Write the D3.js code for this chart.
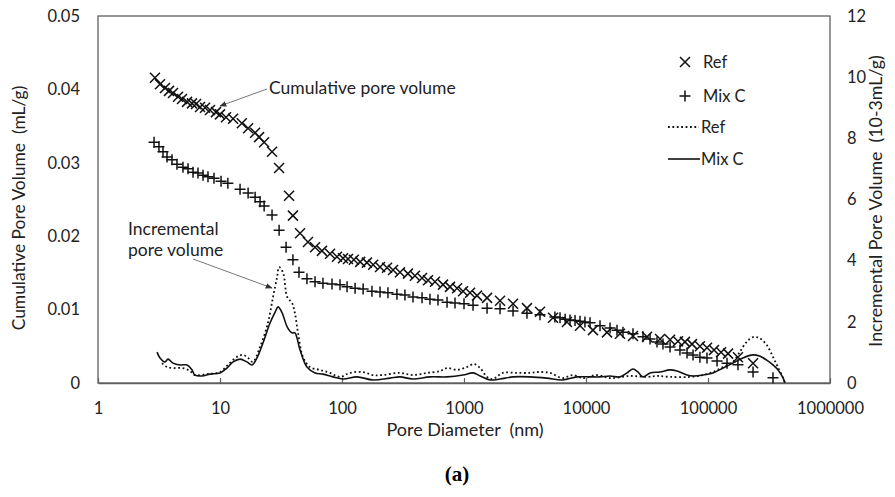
<!DOCTYPE html>
<html>
<head>
<meta charset="utf-8">
<script src="https://cdn.jsdelivr.net/npm/d3@7"></script>
<style>
body { margin: 0; background: #fff; }
text { font-family: Lato, "Open Sans", sans-serif; fill: #222; }
</style>
</head>
<body>
<div id="viz"></div>
<script>
// Cumulative pore volume (mL/g), markers.
var refCumD = [2.93, 3.22, 3.54, 3.82, 4.12, 4.53, 4.88, 5.37, 5.89, 6.36, 6.86, 7.54, 8.28, 9.27, 10,
	11.2, 12.8, 15.1, 17.0, 19.4, 20.9, 23.0, 26.7, 30.5, 36.8, 39.6, 45.3, 52.6, 60.1, 68.5, 79.8, 91,
	102, 112, 125, 141, 160, 180, 205, 234, 262, 299, 347, 396, 453, 507, 578, 673, 768, 877, 982,
	1120, 1279, 1545, 1974, 2523, 3281, 4198, 5370, 6982, 8932, 11400, 14860, 19000, 24270, 31620,
	40450, 48870, 56760, 64740, 73960, 85900, 98130, 112000, 128000, 146000, 176000, 234000];
var refCumV = [0.0416, 0.0407, 0.0402, 0.0398, 0.0395, 0.0390, 0.0387, 0.0383, 0.0381, 0.0380, 0.0376, 0.0375, 0.0372, 0.0369, 0.0366,
	0.0362, 0.0360, 0.0354, 0.0347, 0.0341, 0.0335, 0.0328, 0.0315, 0.0293, 0.0255, 0.0228, 0.0204, 0.0192, 0.0185, 0.0180, 0.0176, 0.0172,
	0.0170, 0.0169, 0.0168, 0.0165, 0.0164, 0.0161, 0.0158, 0.0157, 0.0154, 0.0151, 0.0149, 0.0146, 0.0143, 0.0140, 0.0138, 0.0134, 0.0131, 0.0129, 0.0125,
	0.0123, 0.0119, 0.0116, 0.0112, 0.0108, 0.0102, 0.0097, 0.0089, 0.0083, 0.0078, 0.0072, 0.0069, 0.0067, 0.0064, 0.0063,
	0.0060, 0.0059, 0.0057, 0.0056, 0.0053, 0.0050, 0.0048, 0.0045, 0.0042, 0.0040, 0.0035, 0.0027];

var mixCumD = [2.88, 3.16, 3.41, 3.68, 4.04, 4.44, 4.97, 5.47, 6.01, 6.6, 7.26, 7.97, 8.93, 10.2, 11.6,
	14.6, 17.0, 19.4, 21.3, 23.0, 26.7, 30.5, 34.8, 39.6, 44.4, 51.6, 60.1, 69.8, 82.8, 96.3,
	110, 128, 149, 176, 205, 238, 282, 328, 382, 453, 526, 612, 726, 844, 1000, 1186, 1545, 1974,
	2523, 3281, 4198, 5560, 6124, 6750, 7396, 8130, 8932, 9800, 10790, 13030, 15740, 17950, 20090, 24270, 29310, 33500,
	38200, 42760, 48870, 58900, 67300, 75400, 85900, 98100, 118600, 143200, 176000, 234000, 341000];
var mixCumV = [0.0328, 0.0322, 0.0315, 0.0308, 0.0304, 0.0298, 0.0294, 0.0292, 0.0287, 0.0286, 0.0283, 0.0281, 0.0279, 0.0275, 0.0272,
	0.0264, 0.0259, 0.0253, 0.0247, 0.0241, 0.0229, 0.0208, 0.0185, 0.0168, 0.0151, 0.0142, 0.0138, 0.0136, 0.0135, 0.0134,
	0.0131, 0.0129, 0.0128, 0.0125, 0.0124, 0.0123, 0.0121, 0.0120, 0.0117, 0.0116, 0.0114, 0.0113, 0.0110, 0.0109, 0.0108, 0.0106, 0.0102, 0.0101,
	0.0098, 0.0095, 0.0093, 0.0090, 0.0089, 0.0087, 0.0086, 0.0085, 0.0084, 0.0083, 0.0082, 0.0078, 0.0075, 0.0072, 0.0069, 0.0067, 0.0063, 0.0060,
	0.0056, 0.0053, 0.0049, 0.0045, 0.0041, 0.0038, 0.0035, 0.0034, 0.0030, 0.0027, 0.0025, 0.0015, 0.0007];

// Incremental pore volume (10-3 mL/g), lines.
var refIncD = [3.35, 3.68, 4.12, 4.97, 5.68, 6.23, 7.82, 10, 11.6, 13.7, 15.4, 17.0, 18.6, 21.3, 24.7, 27.2, 29.4, 30.5,
	32.9, 35.6, 38.9, 41.1, 43.6, 47.9, 54.6, 65.7, 79.8, 96.3, 116, 148, 179, 216, 299, 381, 497, 636, 726, 877,
	1057, 1206, 1355, 1545, 1720, 2080, 2710, 3470, 4040, 5060, 6430, 7780, 9400, 12300, 15740, 22800, 31620,
	38200, 48870, 71200, 91100, 110000, 133000, 160000, 182000, 207000, 234000, 264000, 303000, 341000, 374000, 413000, 426000];
var refIncV = [0.65, 0.52, 0.49, 0.49, 0.39, 0.26, 0.29, 0.36, 0.59, 0.85, 0.92, 0.82, 0.69, 1.18, 1.96, 2.81, 3.47, 3.79,
	3.60, 2.81, 2.62, 2.29, 1.64, 0.85, 0.52, 0.43, 0.33, 0.20, 0.33, 0.36, 0.26, 0.26, 0.33, 0.26, 0.33, 0.39, 0.49, 0.43,
	0.52, 0.62, 0.49, 0.20, 0.13, 0.33, 0.33, 0.33, 0.36, 0.33, 0.16, 0.26, 0.16, 0.26, 0.16, 0.23, 0.20,
	0.23, 0.20, 0.20, 0.26, 0.36, 0.52, 0.69, 1.01, 1.34, 1.50, 1.47, 1.24, 0.85, 0.52, 0.16, 0.03];

var mixIncD = [3.05, 3.22, 3.54, 3.75, 4.12, 4.70, 5.37, 5.89, 6.23, 7.12, 8.28, 10, 11.4, 12.8, 14.6, 16.6, 18.3, 20.1,
	22.5, 25.7, 28.3, 29.9, 32.1, 35.6, 38.9, 41.1, 45.3, 51.6, 60.1, 69.8, 84.1, 102, 133, 179, 248, 298, 381, 526, 726,
	982, 1186, 1355, 1640, 1974, 2523, 3470, 4760, 6430, 8470, 10790, 13030, 15740, 19000, 21700, 24270, 26640, 29310,
	33500, 40450, 48870, 55800, 67300, 75400, 91100, 110000, 133000, 160000, 193000, 234000, 264000, 303000, 341000, 374000, 413000, 426000];
var mixIncV = [1.01, 0.82, 0.69, 0.78, 0.65, 0.59, 0.59, 0.43, 0.26, 0.23, 0.29, 0.33, 0.49, 0.69, 0.78, 0.69, 0.59, 0.82,
	1.31, 1.96, 2.32, 2.49, 2.32, 1.83, 1.64, 1.64, 1.08, 0.52, 0.33, 0.29, 0.20, 0.13, 0.20, 0.10, 0.16, 0.20, 0.13, 0.20, 0.20,
	0.26, 0.33, 0.23, 0.10, 0.13, 0.20, 0.20, 0.16, 0.10, 0.20, 0.20, 0.20, 0.23, 0.20, 0.33, 0.46, 0.36, 0.20,
	0.33, 0.36, 0.43, 0.39, 0.26, 0.23, 0.26, 0.33, 0.49, 0.65, 0.82, 0.92, 0.88, 0.75, 0.59, 0.43, 0.16, 0];

var xTicks = [1, 10, 100, 1000, 10000, 100000, 1000000];
var yLeftTicks = [0, 0.01, 0.02, 0.03, 0.04, 0.05];
var yRightTicks = [0, 2, 4, 6, 8, 10, 12];

var W = 895, H = 497;
var mLeft = 98, mRight = 830, mTop = 16, mBottom = 383;

var svg = d3.select("#viz")
	.append("svg")
	.attr("width", W)
	.attr("height", H);

var x = d3.scaleLog().domain([1, 1000000]).range([mLeft, mRight]);
var yL = d3.scaleLinear().domain([0, 0.05]).range([mBottom, mTop]);
var yR = d3.scaleLinear().domain([0, 12]).range([mBottom, mTop]);

var frame = "#5f5f5f";

// Plot box.
svg.append("rect")
	.attr("x", mLeft).attr("y", mTop)
	.attr("width", mRight - mLeft).attr("height", mBottom - mTop)
	.style("fill", "none").style("stroke", frame).style("stroke-width", 1.3);

// Bottom axis with inward ticks.
var xAxis = svg.append("g")
	.attr("transform", "translate(0," + mBottom + ")")
	.call(d3.axisBottom(x).tickValues(xTicks).tickSizeInner(-5).tickSizeOuter(0).tickFormat(d3.format("d")));
xAxis.select(".domain").style("stroke", frame).style("stroke-width", 1.3);
xAxis.selectAll(".tick line").style("stroke", frame).style("stroke-width", 1.2);
xAxis.selectAll(".tick text").attr("y", 19).style("font-size", "16.5px").style("font-family", "Lato").style("fill", "#222");

// Left axis.
var yAxisL = svg.append("g")
	.attr("transform", "translate(" + mLeft + ",0)")
	.call(d3.axisLeft(yL).tickValues(yLeftTicks).tickSize(0).tickPadding(18).tickFormat(function(d) { return d === 0 ? "0" : d3.format(".2f")(d); }));
yAxisL.select(".domain").remove();
yAxisL.selectAll(".tick text").style("font-size", "16.5px").style("font-family", "Lato").style("fill", "#222");

// Right axis.
var yAxisR = svg.append("g")
	.attr("transform", "translate(" + mRight + ",0)")
	.call(d3.axisRight(yR).tickValues(yRightTicks).tickSize(0).tickPadding(17));
yAxisR.select(".domain").remove();
yAxisR.selectAll(".tick text").style("font-size", "16.5px").style("font-family", "Lato").style("fill", "#222");

// Axis titles.
svg.append("text")
	.attr("x", 465).attr("y", 436)
	.attr("text-anchor", "middle")
	.style("font-size", "18px")
	.text("Pore Diameter\u00a0 (nm)");

svg.append("text")
	.attr("transform", "translate(25,208) rotate(-90)")
	.attr("text-anchor", "middle")
	.style("font-size", "17.4px")
	.text("Cumulative Pore Volume\u00a0 (mL/g)");

svg.append("text")
	.attr("transform", "translate(882,201) rotate(-90)")
	.attr("text-anchor", "middle")
	.style("font-size", "17.8px")
	.text("Incremental Pore Volume\u00a0 (10-3mL/g)");

svg.append("text")
	.attr("x", 457).attr("y", 481)
	.attr("text-anchor", "middle")
	.style("font-family", "'Liberation Serif', serif")
	.style("font-weight", "bold")
	.style("font-size", "21px")
	.style("fill", "#000")
	.text("(a)");

// Incremental lines.
svg.append("clipPath").attr("id", "plot")
	.append("rect").attr("x", mLeft).attr("y", mTop).attr("width", mRight - mLeft).attr("height", mBottom - mTop);

function incLine(ds, vs) {
	return d3.line()
		.x(function(i) { return x(ds[i]); })
		.y(function(i) { return yR(vs[i]); })
		.curve(d3.curveCatmullRom)(d3.range(ds.length));
}

svg.append("path")
	.attr("d", incLine(refIncD, refIncV))
	.attr("clip-path", "url(#plot)")
	.style("fill", "none").style("stroke", "#111").style("stroke-width", 1.8)
	.style("stroke-dasharray", "1.8,2.6");

svg.append("path")
	.attr("d", incLine(mixIncD, mixIncV))
	.attr("clip-path", "url(#plot)")
	.style("fill", "none").style("stroke", "#111").style("stroke-width", 1.6);

// Markers.
var s = 5;
function crossX(cx, cy) {
	return "M" + (cx - s) + "," + (cy - s) + "L" + (cx + s) + "," + (cy + s) +
		"M" + (cx - s) + "," + (cy + s) + "L" + (cx + s) + "," + (cy - s);
}
function crossPlus(cx, cy) {
	var p = 5.5;
	return "M" + (cx - p) + "," + cy + "L" + (cx + p) + "," + cy +
		"M" + cx + "," + (cy - p) + "L" + cx + "," + (cy + p);
}

svg.append("g").selectAll("path")
	.data(d3.range(refCumD.length))
	.enter().append("path")
	.attr("d", function(i) { return crossX(x(refCumD[i]), yL(refCumV[i])); })
	.style("stroke", "#111").style("stroke-width", 1.5).style("fill", "none");

svg.append("g").selectAll("path")
	.data(d3.range(mixCumD.length))
	.enter().append("path")
	.attr("d", function(i) { return crossPlus(x(mixCumD[i]), yL(mixCumV[i])); })
	.style("stroke", "#111").style("stroke-width", 1.5).style("fill", "none");

// Annotations.
svg.append("defs").append("marker")
	.attr("id", "arrow")
	.attr("viewBox", "0 0 10 10")
	.attr("refX", 9).attr("refY", 5)
	.attr("markerWidth", 7).attr("markerHeight", 7)
	.attr("orient", "auto")
	.append("path").attr("d", "M0,1L10,5L0,9Z").style("fill", "#333");

svg.append("line")
	.attr("x1", 267).attr("y1", 89).attr("x2", 220).attr("y2", 106)
	.style("stroke", "#777").style("stroke-width", 1)
	.attr("marker-end", "url(#arrow)");
svg.append("text")
	.attr("x", 269).attr("y", 94)
	.style("font-size", "17.5px")
	.text("Cumulative pore volume");

svg.append("line")
	.attr("x1", 193).attr("y1", 259).attr("x2", 272).attr("y2", 288)
	.style("stroke", "#777").style("stroke-width", 1)
	.attr("marker-end", "url(#arrow)");
svg.append("text")
	.attr("x", 128).attr("y", 235)
	.style("font-size", "17.5px")
	.text("Incremental");
svg.append("text")
	.attr("x", 128).attr("y", 256)
	.style("font-size", "17.5px")
	.text("pore volume");

// Legend.
var lg = svg.append("g");
lg.append("path").attr("d", crossX(685, 62)).style("stroke", "#111").style("stroke-width", 1.5);
lg.append("path").attr("d", crossPlus(685, 96)).style("stroke", "#111").style("stroke-width", 1.5);
lg.append("line").attr("x1", 668).attr("x2", 699).attr("y1", 127).attr("y2", 127)
	.style("stroke", "#111").style("stroke-width", 1.8).style("stroke-dasharray", "1.8,2.6");
lg.append("line").attr("x1", 668).attr("x2", 700).attr("y1", 159).attr("y2", 159)
	.style("stroke", "#111").style("stroke-width", 1.6);
var legendNames = ["Ref", "Mix C", "Ref", "Mix C"];
var legendY = [62, 96, 127, 159];
lg.selectAll("text")
	.data(legendNames)
	.enter().append("text")
	.attr("x", function(d, i) { return i < 2 ? 703 : 701; })
	.attr("y", function(d, i) { return legendY[i]; })
	.attr("dy", "0.35em")
	.style("font-size", "16.5px")
	.text(function(d) { return d; });
</script>
</body>
</html>
